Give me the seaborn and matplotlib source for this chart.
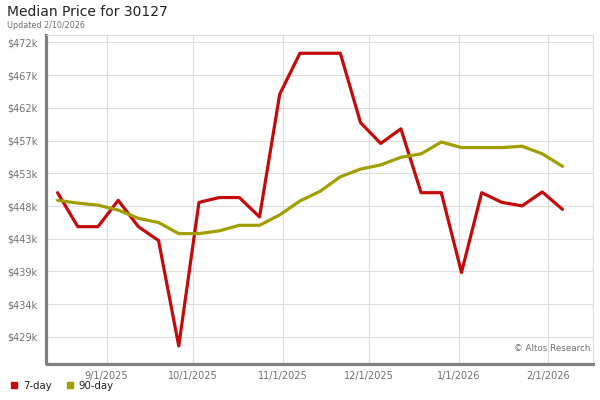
import numpy as np
import pandas as pd
import matplotlib
matplotlib.use('Agg')
import matplotlib.pyplot as plt
from matplotlib.lines import Line2D
import seaborn as sns

# weekly median price, in $k
dates = pd.date_range('2025-08-15', periods=26, freq='7D')
day7 = [449.9, 445.0, 445.0, 448.8, 445.0, 443.0, 427.8, 448.5, 449.2, 449.2,
        446.4, 464.1, 470.0, 470.0, 470.0, 460.0, 457.0, 459.1, 449.9, 449.9,
        438.4, 449.9, 448.5, 448.0, 450.0, 447.5]
day90 = [448.8, 448.4, 448.1, 447.4, 446.2, 445.6, 444.0, 444.0, 444.4, 445.2,
         445.2, 446.7, 448.7, 450.1, 452.2, 453.3, 453.9, 455.0, 455.5, 457.2,
         456.4, 456.4, 456.4, 456.6, 455.5, 453.7]
ytick_labels = ['$429k', '$434k', '$439k', '$443k', '$448k', '$453k',
                '$457k', '$462k', '$467k', '$472k']
month_ticks = ['2025-09-01', '2025-10-01', '2025-11-01', '2025-12-01',
               '2026-01-01', '2026-02-01']
month_labels = ['9/1/2025', '10/1/2025', '11/1/2025', '12/1/2025',
                '1/1/2026', '2/1/2026']

df = pd.DataFrame({'date': list(dates) * 2,
                   'price': day7 + day90,
                   'series': ['7-day'] * 26 + ['90-day'] * 26})
colors = {'7-day': '#c40a0a', '90-day': '#a09e00'}

sns.set_style('white')
plt.rcParams['font.family'] = ['DejaVu Sans']

fig = plt.figure(figsize=(6, 4), dpi=100)
ax = fig.add_axes([47 / 600, 1 - 363 / 400, 546 / 600, 328 / 400])

sns.lineplot(data=df, x='date', y='price', hue='series', palette=colors,
             linewidth=2.3, legend=False, ax=ax)

ax.set_ylim(425.35, 472.63)
ax.set_xlim(pd.Timestamp('2025-08-11 08:00'), pd.Timestamp('2026-02-16 14:00'))
ax.set_yticks(np.linspace(429.1, 471.58, 10))
ax.set_yticklabels(ytick_labels)
ax.set_xticks(pd.to_datetime(month_ticks))
ax.set_xticklabels(month_labels)
ax.grid(True, color='#dddddd', linewidth=0.8)
ax.set_axisbelow(True)
ax.tick_params(length=0, labelsize=7, colors='#707070', pad=5)
ax.tick_params(axis='y', pad=6)
ax.set_xlabel('')
ax.set_ylabel('')

for s in ['top', 'right']:
    ax.spines[s].set_color('#dddddd')
    ax.spines[s].set_linewidth(0.8)
for s in ['left', 'bottom']:
    ax.spines[s].set_color('#808080')
    ax.spines[s].set_linewidth(2.3)
    ax.spines[s].set_position(('outward', 1.0))

ax.text(0.995, 0.03, '\u00a9 Altos Research', transform=ax.transAxes,
        ha='right', va='bottom', fontsize=6.3, color='#707070')

fig.text(7 / 600, 1 - 12 / 400, 'Median Price for 30127', fontsize=10,
         color='#222222', va='center', ha='left')
fig.text(7 / 600, 1 - 25 / 400, 'Updated 2/10/2026', fontsize=5.8,
         color='#707070', va='center', ha='left')

handles = [Line2D([], [], marker='s', linestyle='', markersize=4.5,
                  color=colors[k]) for k in ['7-day', '90-day']]
leg = fig.legend(handles, ['7-day', '90-day'], loc='center left',
                 bbox_to_anchor=(5 / 600, 1 - 386 / 400), ncol=2, frameon=False,
                 fontsize=7.3, handletextpad=0.35, columnspacing=1.3,
                 handlelength=1.0, borderaxespad=0)
for t in leg.get_texts():
    t.set_color('#222222')

fig.savefig('out.png', dpi=100)
